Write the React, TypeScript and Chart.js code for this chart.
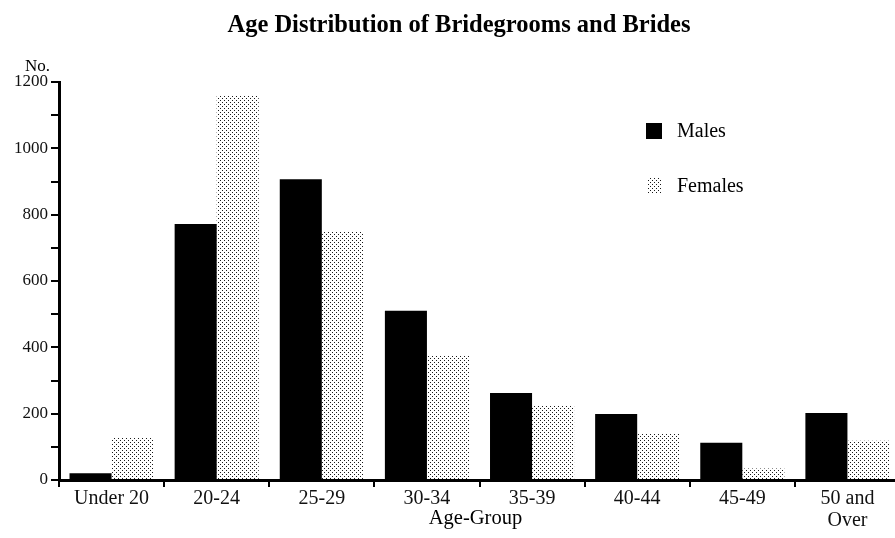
import React, { useEffect, useRef } from "react";
import { Chart, registerables } from "chart.js";

Chart.register(...registerables);

const TITLE = "Age Distribution of Bridegrooms and Brides";
const Y_LABEL = "No.";
const X_LABEL = "Age-Group";
const SERIES_NAMES = ["Males", "Females"];
const categories = ["Under 20", "20-24", "25-29", "30-34", "35-39", "40-44", "45-49", "50 and\nOver"];
const males = [20, 772, 907, 510, 262, 199, 112, 202];
const females = [130, 1158, 748, 374, 226, 139, 35, 118];
const Y_MIN = 0;
const Y_MAX = 1200;
const Y_STEP = 100;
const Y_LABEL_STEP = 200;

const FONT = "'Liberation Serif', 'Times New Roman', serif";

function makeStipple(): CanvasPattern | string {
  const c = document.createElement("canvas");
  c.width = 4;
  c.height = 4;
  const g = c.getContext("2d");
  if (!g) return "#bbb";
  g.fillStyle = "#fff";
  g.fillRect(0, 0, 4, 4);
  g.fillStyle = "#1a1a1a";
  g.fillRect(0, 0, 1, 1);
  g.fillRect(2, 2, 1, 1);
  const p = g.createPattern(c, "repeat");
  return p || "#bbb";
}

export default function App() {
  const ref = useRef<HTMLCanvasElement | null>(null);

  useEffect(() => {
    const canvas = ref.current;
    if (!canvas) return;
    const stipple = makeStipple();

    const textPlugin = {
      id: "textPlugin",
      afterDraw(chart: any) {
        const ctx = chart.ctx as CanvasRenderingContext2D;
        const area = chart.chartArea;
        ctx.save();
        ctx.fillStyle = "#000";
        // title
        ctx.font = `bold 24.5px ${FONT}`;
        ctx.textAlign = "center";
        ctx.textBaseline = "middle";
        ctx.fillText(TITLE, 459, 26);
        // y label
        ctx.font = `17px ${FONT}`;
        ctx.textAlign = "left";
        ctx.fillText(Y_LABEL, 25, 67);
        // x label
        ctx.font = `20.5px ${FONT}`;
        ctx.textAlign = "center";
        ctx.fillText(X_LABEL, (area.left + area.right) / 2 - 4, 519);
        // legend
        ctx.fillStyle = "#000";
        ctx.fillRect(646, 123, 16, 16);
        ctx.fillStyle = stipple as any;
        ctx.fillRect(647, 178, 15, 16);
        ctx.fillStyle = "#000";
        ctx.font = `20px ${FONT}`;
        ctx.textAlign = "left";
        ctx.fillText(SERIES_NAMES[0], 677, 132);
        ctx.fillText(SERIES_NAMES[1], 677, 187);
        ctx.restore();
      },
    };

    const chart = new Chart(canvas, {
      type: "bar",
      data: {
        labels: categories.map((c) => (c.includes("\n") ? c.split("\n") : c)),
        datasets: [
          {
            label: SERIES_NAMES[0],
            data: males,
            backgroundColor: "#000",
            borderWidth: 0,
            categoryPercentage: 0.8,
            barPercentage: 1.0,
          },
          {
            label: SERIES_NAMES[1],
            data: females,
            backgroundColor: stipple as any,
            borderWidth: 0,
            categoryPercentage: 0.8,
            barPercentage: 1.0,
          },
        ],
      },
      options: {
        responsive: false,
        animation: false,
        layout: { padding: { top: 82, right: 10, left: 0, bottom: 0 } },
        plugins: {
          legend: { display: false },
          title: { display: false },
          tooltip: { enabled: false },
        },
        scales: {
          x: {
            afterFit: (scale: any) => {
              scale.height = 58;
            },
            grid: {
              display: true,
              drawOnChartArea: false,
              drawTicks: true,
              tickLength: 7,
              color: "#000",
              lineWidth: 2,
              offset: true,
            },
            border: { display: true, color: "#000", width: 3 },
            ticks: {
              color: "#111",
              font: { family: FONT, size: 20, lineHeight: 1.1 },
              padding: 1,
              maxRotation: 0,
              autoSkip: false,
            },
          },
          y: {
            min: Y_MIN,
            max: Y_MAX,
            afterFit: (scale: any) => {
              scale.width = 59;
            },
            grid: {
              display: true,
              drawOnChartArea: false,
              drawTicks: true,
              tickLength: 8,
              color: "#000",
              lineWidth: 2,
            },
            border: { display: true, color: "#000", width: 3 },
            ticks: {
              stepSize: Y_STEP,
              maxTicksLimit: 50,
              autoSkip: false,
              color: "#111",
              padding: 3,
              font: { family: FONT, size: 17 },
              callback: (v: any) => (Number(v) % Y_LABEL_STEP === 0 ? String(v) : ""),
            },
          },
        },
      },
      plugins: [textPlugin],
    });

    return () => chart.destroy();
  }, []);

  return (
    <div
      style={{
        position: "fixed",
        left: 0,
        top: 0,
        width: 895,
        height: 538,
        overflow: "hidden",
        background: "#fff",
      }}
    >
      <canvas ref={ref} width={910} height={538} style={{ display: "block", width: 910, height: 538 }} />
    </div>
  );
}
